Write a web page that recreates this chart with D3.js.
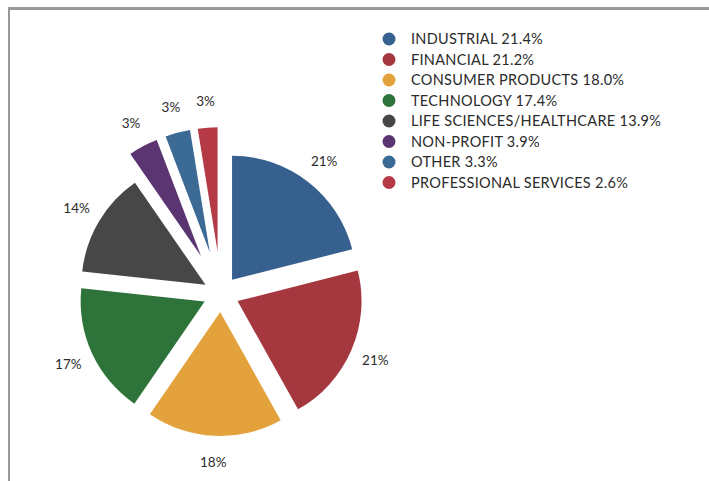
<!DOCTYPE html>
<html>
<head>
<meta charset="utf-8">
<script src="https://cdn.jsdelivr.net/npm/d3@7"></script>
<style>
  body { margin: 0; background: #fff; }
  text { font-family: Lato, "Open Sans", sans-serif; fill: #2b2b2b; }
</style>
</head>
<body>
<div id="chart"></div>
<script>
const categories = ["INDUSTRIAL", "FINANCIAL", "CONSUMER PRODUCTS", "TECHNOLOGY",
  "LIFE SCIENCES/HEALTHCARE", "NON-PROFIT", "OTHER", "PROFESSIONAL SERVICES"];
const values = [21.4, 21.2, 18.0, 17.4, 13.9, 3.9, 3.3, 2.6];
const sliceLabels = ["21%", "21%", "18%", "17%", "14%", "3%", "3%", "3%"];
const colors = ["#36608e", "#a5383e", "#e4a23c", "#2e7339", "#474747", "#5b3572", "#3b6a94", "#b63a46"];

const width = 709, height = 481;
const cx = 221, cy = 294, radius = 124;

const svg = d3.select("#chart").append("svg")
  .attr("width", width)
  .attr("height", height);

// frame: only top and left edges visible
svg.append("rect").attr("x", 8).attr("y", 7).attr("width", width).attr("height", 3).attr("fill", "#999");
svg.append("rect").attr("x", 8).attr("y", 7).attr("width", 2).attr("height", height).attr("fill", "#999");

const pie = d3.pie().sort(null).value(d => d);
const arc = d3.arc().innerRadius(0).outerRadius(radius);
const arcs = pie(values);

// small slices are pulled further out
const pull = d => d.data < 5 ? 43 : 18;
const dir = d => {
  const a = (d.startAngle + d.endAngle) / 2;
  return [Math.sin(a), -Math.cos(a)];
};

const g = svg.append("g").attr("transform", "translate(" + cx + "," + cy + ")");

const slice = g.selectAll(".slice")
  .data(arcs)
  .enter()
  .append("g")
  .attr("class", "slice");

slice.append("path")
  .attr("d", arc)
  .attr("fill", (d, i) => colors[i])
  .attr("transform", d => {
    const [x, y] = dir(d);
    return "translate(" + x * pull(d) + "," + y * pull(d) + ")";
  });

slice.append("text")
  .attr("transform", d => {
    const [x, y] = dir(d);
    const r = pull(d) + 150;
    return "translate(" + x * r + "," + y * r + ")";
  })
  .attr("text-anchor", "middle")
  .attr("dy", "0.35em")
  .attr("font-size", 13.5)
  .text((d, i) => sliceLabels[i]);

// legend
const legend = svg.append("g").attr("transform", "translate(389,39)");
const row = legend.selectAll("g")
  .data(categories)
  .enter()
  .append("g")
  .attr("transform", (d, i) => "translate(0," + i * 20.5 + ")");

row.append("circle")
  .attr("r", 6.5)
  .attr("fill", (d, i) => colors[i]);

row.append("text")
  .attr("x", 22)
  .attr("dy", "0.36em")
  .attr("font-size", 14.5)
  .attr("letter-spacing", 0.3)
  .text((d, i) => d + " " + values[i].toFixed(1) + "%");
</script>
</body>
</html>
